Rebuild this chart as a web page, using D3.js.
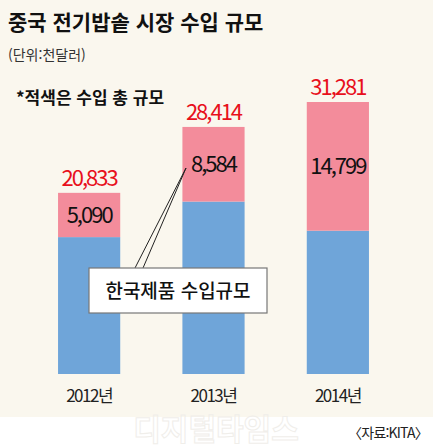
<!DOCTYPE html>
<html lang="ko">
<head>
<meta charset="UTF-8">
<script src="https://d3js.org/d3.v7.min.js"></script>
<style>
  html, body { margin: 0; background: #fff; }
  text { font-family: "Noto Sans CJK KR", sans-serif; }
</style>
</head>
<body>
<svg width="433" height="448"></svg>
<script>
const years = ["2012년", "2013년", "2014년"];
const totals = [20833, 28414, 31281];
const korea = [5090, 8584, 14799];

const svg = d3.select("svg");
svg.append("rect").attr("width", 433).attr("height", 417).attr("fill", "#faf7ee");

const x = d3.scaleBand().domain(years).range([17, 410]).paddingInner(0.5).paddingOuter(0.33);
const y = d3.scaleLinear().domain([0, 31281]).range([374, 102]);

svg.append("text").attr("x", 8).attr("y", 30).attr("font-size", 21).attr("font-weight", 700)
  .attr("fill", "#111").text("중국 전기밥솥 시장 수입 규모");
svg.append("text").attr("x", 8).attr("y", 60).attr("font-size", 14)
  .attr("fill", "#333").text("(단위:천달러)");
svg.append("text").attr("x", 16).attr("y", 104).attr("font-size", 17).attr("font-weight", 700)
  .attr("fill", "#111").text("*적색은 수입 총 규모");

const g = svg.append("g").selectAll("g").data(years).enter().append("g");
g.append("rect").attr("x", d => x(d)).attr("width", x.bandwidth())
  .attr("y", (d, i) => y(totals[i] - korea[i])).attr("height", (d, i) => y(0) - y(totals[i] - korea[i]))
  .attr("fill", "#6fa5d9");
g.append("rect").attr("x", d => x(d)).attr("width", x.bandwidth())
  .attr("y", (d, i) => y(totals[i])).attr("height", (d, i) => y(totals[i] - korea[i]) - y(totals[i]))
  .attr("fill", "#f38c9b");
g.append("text").attr("x", d => x(d) + x.bandwidth() / 2).attr("y", (d, i) => y(totals[i]) - 7)
  .attr("text-anchor", "middle").attr("font-size", 22).attr("fill", "#e8101c")
  .attr("letter-spacing", -2).text((d, i) => d3.format(",")(totals[i]));
g.append("text").attr("x", d => x(d) + x.bandwidth() / 2)
  .attr("y", (d, i) => (y(totals[i]) + y(totals[i] - korea[i])) / 2 + 8)
  .attr("text-anchor", "middle").attr("font-size", 22).attr("fill", "#111")
  .attr("letter-spacing", -2).text((d, i) => d3.format(",")(korea[i]));
g.append("text").attr("x", d => x(d) + x.bandwidth() / 2).attr("y", 402)
  .attr("text-anchor", "middle").attr("font-size", 17).attr("fill", "#222")
  .attr("letter-spacing", -1.5).text(d => d);

// callout
const c = svg.append("g");
c.append("line").attr("x1", 135).attr("y1", 268).attr("x2", 186).attr("y2", 168).attr("stroke", "#222");
c.append("line").attr("x1", 143).attr("y1", 268).attr("x2", 186).attr("y2", 168).attr("stroke", "#222");
c.append("rect").attr("x", 89).attr("y", 268).attr("width", 178).attr("height", 45)
  .attr("fill", "#fff").attr("stroke", "#777").attr("stroke-width", 1.2);
c.append("text").attr("x", 178).attr("y", 298).attr("text-anchor", "middle").attr("font-size", 19)
  .attr("font-weight", 500).attr("fill", "#111").text("한국제품 수입규모");

svg.append("text").attr("x", 216).attr("y", 440).attr("text-anchor", "middle").attr("font-size", 30)
  .attr("font-weight", 700).attr("fill", "none").attr("stroke", "#f0eeea").text("디지털타임스");
svg.append("text").attr("x", 428).attr("y", 438).attr("text-anchor", "end").attr("font-size", 14)
  .attr("fill", "#222").attr("letter-spacing", -0.8).text("〈자료:KITA〉");
</script>
</body>
</html>
